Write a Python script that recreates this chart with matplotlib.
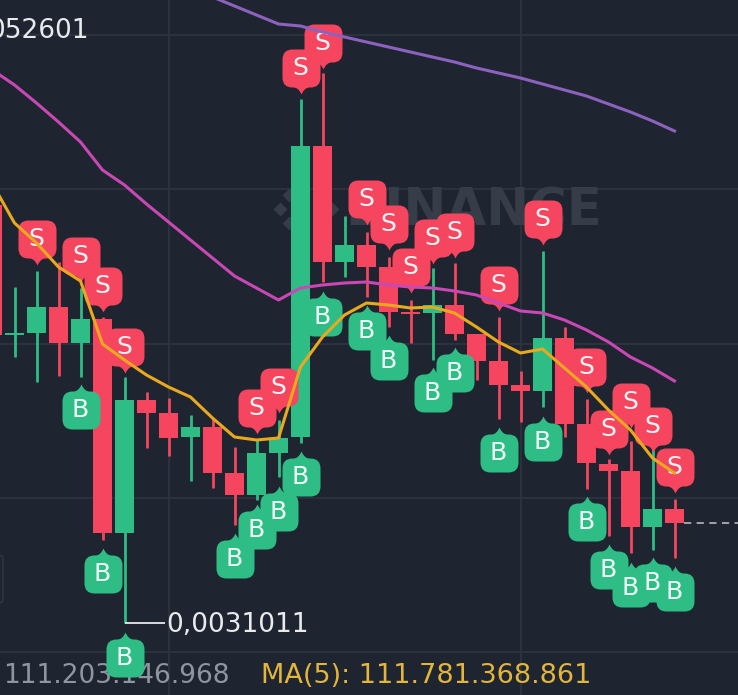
import numpy as np
from matplotlib import pyplot as plt
from matplotlib.path import Path
from matplotlib.patches import FancyBboxPatch

plt.rcParams['font.family'] = ['DejaVu Sans']

# candle index -1 is the one cut off by the left edge
candles = list(range(-1, 31))
# heights on the chart's own scale
opens = [490, 360, 362, 388, 352, 376, 162, 295, 282, 258, 268, 222, 200, 242, 258, 549,
         433, 450, 428, 383, 382, 390, 361, 334, 310, 304, 357, 271, 231, 224, 168, 186]
closes = [360, 362, 388, 352, 376, 162, 295, 282, 257, 268, 222, 200, 242, 257, 549, 433,
          450, 428, 383, 381, 390, 361, 334, 310, 304, 357, 271, 232, 224, 168, 186, 172]
highs = [490, 408, 424, 433, 407, 378, 318, 303, 297, 280, 277, 248, 255, 275, 596, 622,
         479, 463, 438, 395, 427, 432, 361, 378, 324, 444, 368, 296, 236, 254, 255, 196]
lows = [360, 338, 313, 319, 318, 155, 72, 247, 239, 214, 207, 170, 195, 218, 252, 413,
        418, 398, 368, 352, 335, 355, 315, 276, 273, 288, 258, 206, 159, 142, 145, 137]

ma5 = [511, 472, 452, 428, 414, 351, 335, 320, 308, 298, 277, 258, 255, 257, 328, 358,
       380, 392, 390, 387, 388, 382, 368, 353, 342, 346, 327, 308, 285, 265, 237, 222]
ma10 = [625, 610, 592, 573, 553, 525, 510, 491, 473, 455, 437, 419, 407, 395, 407, 410,
        412, 413, 410, 408, 407, 404, 400, 392, 384, 382, 375, 365, 353, 338, 327, 314]
ma20_start = 9
ma20 = [698, 689, 680, 671, 669, 663, 658, 653, 648, 643, 638, 633, 627, 622, 617, 611,
        605, 599, 591, 583, 574, 564]

# trade markers: candle index and height of the middle of the badge
sell_x = [1, 3, 4, 5, 11, 12, 13, 14, 16, 17, 18, 19, 20, 22, 24, 26, 27, 28, 29, 30]
sell_y = [456, 439, 409, 348, 287, 308, 627, 652, 496, 471, 428, 457, 463, 410, 476, 328, 266, 293, 269, 228]
buy_x = [3, 4, 5, 10, 11, 12, 13, 14, 16, 17, 19, 20, 22, 24, 26, 27, 28, 29, 30]
buy_y = [285, 121, 37, 136, 165, 183, 218, 378, 364, 334, 302, 322, 242, 253, 173, 125, 107, 112, 103]

grid_y = [660, 506, 351, 197, 43]
grid_x = [7, 23]
last_price = 172

logo_x = [12.07, 12.48, 12.48, 14.02, 14.02, 14.43]
logo_y = [486, 500, 472, 500, 472, 486]

bg = '#1E2530'
red = '#F5455F'
green = '#2EBD85'
wm = '#363D49'
grid_col = '#2E3540'


def badge(up):
    # rounded badge, the little point goes to the candle
    w, r = 19, 10
    s = 1 if up else -1
    v = [(-w, -w + r), (-w, w - r), (-w, w), (-w + r, w), (-8, w), (-3, w), (0, w + 7),
         (3, w), (8, w), (w - r, w), (w, w), (w, w - r), (w, -w + r), (w, -w), (w - r, -w),
         (-w + r, -w), (-w, -w), (-w, -w + r), (-w, -w + r)]
    c = [Path.MOVETO, Path.LINETO, Path.CURVE3, Path.CURVE3, Path.LINETO, Path.CURVE3, Path.CURVE3,
         Path.CURVE3, Path.CURVE3, Path.LINETO, Path.CURVE3, Path.CURVE3, Path.LINETO, Path.CURVE3,
         Path.CURVE3, Path.LINETO, Path.CURVE3, Path.CURVE3, Path.CLOSEPOLY]
    return Path([(a, s * b) for a, b in v], c)


fig = plt.figure(figsize=(7.38, 6.95), dpi=100, facecolor=bg)
ax = fig.add_axes([0, 0, 1, 1], facecolor=bg)
ax.set_xlim(-14.5 / 22, (738 - 14.5) / 22)
ax.set_ylim(0, 695)
ax.axis('off')

for y in grid_y:
    ax.axhline(y, color=grid_col, lw=1.2, zorder=1)
for x in grid_x:
    ax.axvline(x, color=grid_col, lw=1.2, zorder=1)

# watermark
ax.text(602 / 738, 0.695, 'BINANCE', transform=ax.transAxes, color=wm, fontsize=37, fontweight='bold',
        ha='right', va='center', zorder=1)
ax.scatter(logo_x, logo_y, marker='D', s=50, color=wm, lw=0, zorder=1)

# candles
o = np.array(opens)
c = np.array(closes)
colors = [green if b > a else red for a, b in zip(opens, closes)]
ax.vlines(candles, lows, highs, colors=colors, lw=2.0, zorder=2)
ax.bar(candles, np.abs(c - o), bottom=np.minimum(o, c), width=0.875, color=colors, zorder=2)

# last price and lowest price
ax.hlines(last_price, 30.45, 34, color='#A8ADB5', lw=1.3, ls=(0, (4, 3)), zorder=2)
ax.hlines(72, 5, 6.85, color='#E8EAEE', lw=1.3, zorder=2)

ax.text(89 / 738, 0.955, '052601', transform=ax.transAxes, color='#E8EAEE', fontsize=19, ha='right', va='center', zorder=2)
ax.text(6.9, 70, '0,0031011', color='#E8EAEE', fontsize=19, ha='left', va='center', zorder=2)
ax.text(0.004, 0.028, '111.203.146.968', transform=ax.transAxes, color='#8F96A0', fontsize=19, ha='left',
        va='center', zorder=2)
ax.text(0.354, 0.028, 'MA(5): 111.781.368.861', transform=ax.transAxes, color='#E3B53B', fontsize=19.5, ha='left',
        va='center', zorder=2)
ax.add_patch(FancyBboxPatch((-1, 92), 0.475, 48, boxstyle='round,pad=0,rounding_size=0.2', mutation_aspect=22,
                            fc='none', ec=grid_col, lw=1.2, zorder=1))

# badges
ax.scatter(sell_x, sell_y, marker=badge(False), s=1402, color=red, lw=0, zorder=3)
ax.scatter(buy_x, buy_y, marker=badge(True), s=1402, color=green, lw=0, zorder=3)
for x, y in zip(sell_x, sell_y):
    ax.text(x, y, 'S', color='#FFF3F3', fontsize=18, ha='center', va='center', zorder=4)
for x, y in zip(buy_x, buy_y):
    ax.text(x, y, 'B', color='#F0FFF8', fontsize=18, ha='center', va='center', zorder=4)

# moving averages
ax.plot(candles, ma10, color='#C948B5', lw=2.2, zorder=5)
ax.plot(range(ma20_start, 31), ma20, color='#8C62BE', lw=2.2, zorder=5)
ax.plot(candles, ma5, color='#E9A91F', lw=2.2, zorder=5)

fig.savefig('out.png', dpi=100, facecolor=bg)
